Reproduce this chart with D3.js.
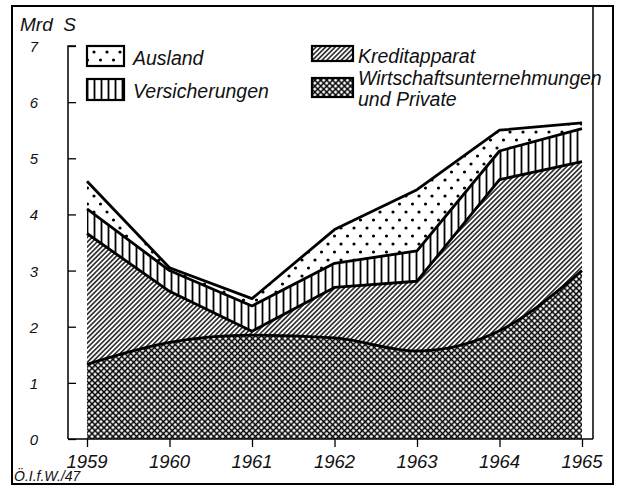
<!DOCTYPE html>
<html><head><meta charset="utf-8">
<script src="https://cdn.jsdelivr.net/npm/d3@7"></script>
<style>
html,body{margin:0;padding:0;background:#fff;}
text{font-family:"Liberation Sans",Arial,sans-serif;font-style:italic;fill:#111;}
</style></head>
<body>
<svg id="chart" width="617" height="487"></svg>
<script>
// ---- data ----
const years = [1959, 1960, 1961, 1962, 1963, 1964, 1965];
const wirtschaft = [1.33, 1.72, 1.85, 1.80, 1.57, 1.93, 3.00];
const kredit = [2.33, 0.91, 0.07, 0.90, 1.24, 2.69, 1.94];
const versicherungen = [0.44, 0.37, 0.45, 0.43, 0.54, 0.51, 0.59];
const ausland = [0.49, 0.05, 0.13, 0.60, 1.09, 0.37, 0.10];
const yTicks = [0, 1, 2, 3, 4, 5, 6, 7];
const seriesKeys = ["wirtschaft", "kredit", "versicherungen", "ausland"];
const legendLabels = {
  ausland: ["Ausland"],
  versicherungen: ["Versicherungen"],
  kredit: ["Kreditapparat"],
  wirtschaft: ["Wirtschaftsunternehmungen", "und Private"]
};
const unitLabel = "Mrd  S";
const sourceLabel = "Ö.I.f.W./47";

const rows = years.map((yr, i) => ({
  year: yr, wirtschaft: wirtschaft[i], kredit: kredit[i],
  versicherungen: versicherungen[i], ausland: ausland[i]
}));
const stacked = d3.stack().keys(seriesKeys)(rows);

const svg = d3.select("#chart");
const x = d3.scaleLinear().domain([1959, 1965]).range([87, 582]);
const y = d3.scaleLinear().domain([0, 7]).range([439, 46]);

// ---- patterns ----
const defs = svg.append("defs");
const pDots = defs.append("pattern").attr("id", "p-ausland")
  .attr("patternUnits", "userSpaceOnUse").attr("width", 13).attr("height", 16);
pDots.append("rect").attr("width", 13).attr("height", 16).attr("fill", "#fff");
pDots.append("circle").attr("cx", 3).attr("cy", 4).attr("r", 1.6).attr("fill", "#000");
pDots.append("circle").attr("cx", 9.5).attr("cy", 12).attr("r", 1.6).attr("fill", "#000");

const pV = defs.append("pattern").attr("id", "p-versicherungen")
  .attr("patternUnits", "userSpaceOnUse").attr("width", 7).attr("height", 10);
pV.append("rect").attr("width", 7).attr("height", 10).attr("fill", "#fff");
pV.append("line").attr("x1", 3.5).attr("x2", 3.5).attr("y1", 0).attr("y2", 10)
  .attr("stroke", "#000").attr("stroke-width", 1.8);

const hs = 3.4;
const pH = defs.append("pattern").attr("id", "p-kredit")
  .attr("patternUnits", "userSpaceOnUse").attr("width", hs).attr("height", hs)
  .attr("patternTransform", "rotate(45)");
pH.append("rect").attr("width", hs).attr("height", hs).attr("fill", "#fff");
pH.append("line").attr("x1", hs / 2).attr("x2", hs / 2).attr("y1", 0).attr("y2", hs)
  .attr("stroke", "#000").attr("stroke-width", 1.35);

const cs = 4.2;
const pC = defs.append("pattern").attr("id", "p-wirtschaft")
  .attr("patternUnits", "userSpaceOnUse").attr("width", cs).attr("height", cs)
  .attr("patternTransform", "rotate(45)");
pC.append("rect").attr("width", cs).attr("height", cs).attr("fill", "#fff");
pC.append("line").attr("x1", cs / 2).attr("x2", cs / 2).attr("y1", 0).attr("y2", cs)
  .attr("stroke", "#000").attr("stroke-width", 1.5);
pC.append("line").attr("y1", cs / 2).attr("y2", cs / 2).attr("x1", 0).attr("x2", cs)
  .attr("stroke", "#000").attr("stroke-width", 1.5);

// ---- frame ----
svg.append("rect").attr("x", 12).attr("y", 6).attr("width", 601).attr("height", 478)
  .attr("fill", "none").attr("stroke", "#000").attr("stroke-width", 2);

// ---- areas: each drawn from 0 to its cumulative top, top layer first ----
const curves = {
  wirtschaft: d3.curveMonotoneX, kredit: d3.curveLinear,
  versicherungen: d3.curveLinear, ausland: d3.curveLinear
};
const layers = stacked.slice().reverse();
layers.forEach(layer => {
  const key = layer.key;
  const area = d3.area().curve(curves[key])
    .x(d => x(d.data.year)).y0(y(0)).y1(d => y(d[1]));
  svg.append("path").datum(layer).attr("d", area)
    .attr("fill", `url(#p-${key})`).attr("stroke", "none");
});
// boundary lines
stacked.forEach(layer => {
  const line = d3.line().curve(curves[layer.key])
    .x(d => x(d.data.year)).y(d => y(d[1]));
  svg.append("path").datum(layer).attr("d", line)
    .attr("fill", "none").attr("stroke", "#000").attr("stroke-width", 2.8)
    .attr("stroke-linejoin", "round");
});

// ---- axes ----
const gy = svg.append("g").attr("transform", "translate(68,0)")
  .call(d3.axisRight(y).tickValues(yTicks).tickSize(8).tickFormat(""));
gy.select(".domain").attr("stroke-width", 1.5).attr("d", `M8,${y(7)}H0V${y(0)}`);
gy.selectAll(".tick line").attr("stroke-width", 1.3);
svg.append("g").selectAll("text").data(yTicks).join("text")
  .attr("x", 34).attr("y", d => y(d) + 6).attr("text-anchor", "middle")
  .attr("font-size", 15).text(d => d);

const gx = svg.append("g").attr("transform", `translate(0,${y(0)})`)
  .call(d3.axisBottom(x).tickValues(years).tickSize(8).tickFormat(""));
gx.select(".domain").attr("stroke-width", 1.5).attr("d", `M68,0H593`);
gx.selectAll(".tick line").attr("stroke-width", 1.3);
svg.append("g").selectAll("text").data(years).join("text")
  .attr("x", d => x(d)).attr("y", 468).attr("text-anchor", "middle")
  .attr("font-size", 18.5).text(d => d);

// right border of plot area
svg.append("line").attr("x1", 593).attr("x2", 593).attr("y1", 6).attr("y2", y(0))
  .attr("stroke", "#000").attr("stroke-width", 1.5);

// unit + source
svg.append("text").attr("x", 20).attr("y", 31).attr("font-size", 19)
  .attr("xml:space", "preserve").style("white-space", "pre").text(unitLabel);
svg.append("text").attr("x", 14).attr("y", 481).attr("font-size", 14).text(sourceLabel);

// ---- legend ----
const legendItems = [
  { key: "ausland", bx: 87, by: 46, bw: 37, bh: 20, tx: 133, ty: 65 },
  { key: "versicherungen", bx: 87, by: 79, bw: 37, bh: 21, tx: 133, ty: 98 },
  { key: "kredit", bx: 312, by: 46, bw: 41, bh: 15, tx: 358, ty: 63 },
  { key: "wirtschaft", bx: 312, by: 78, bw: 41, bh: 19, tx: 358, ty: 85 }
];
const lg = svg.append("g");
legendItems.forEach(it => {
  lg.append("rect").attr("x", it.bx).attr("y", it.by).attr("width", it.bw).attr("height", it.bh)
    .attr("fill", `url(#p-${it.key})`).attr("stroke", "#000").attr("stroke-width", 2.2);
  legendLabels[it.key].forEach((t, j) => {
    lg.append("text").attr("x", it.tx).attr("y", it.ty + j * 21)
      .attr("font-size", 19.5).text(t);
  });
});
</script>
</body></html>
